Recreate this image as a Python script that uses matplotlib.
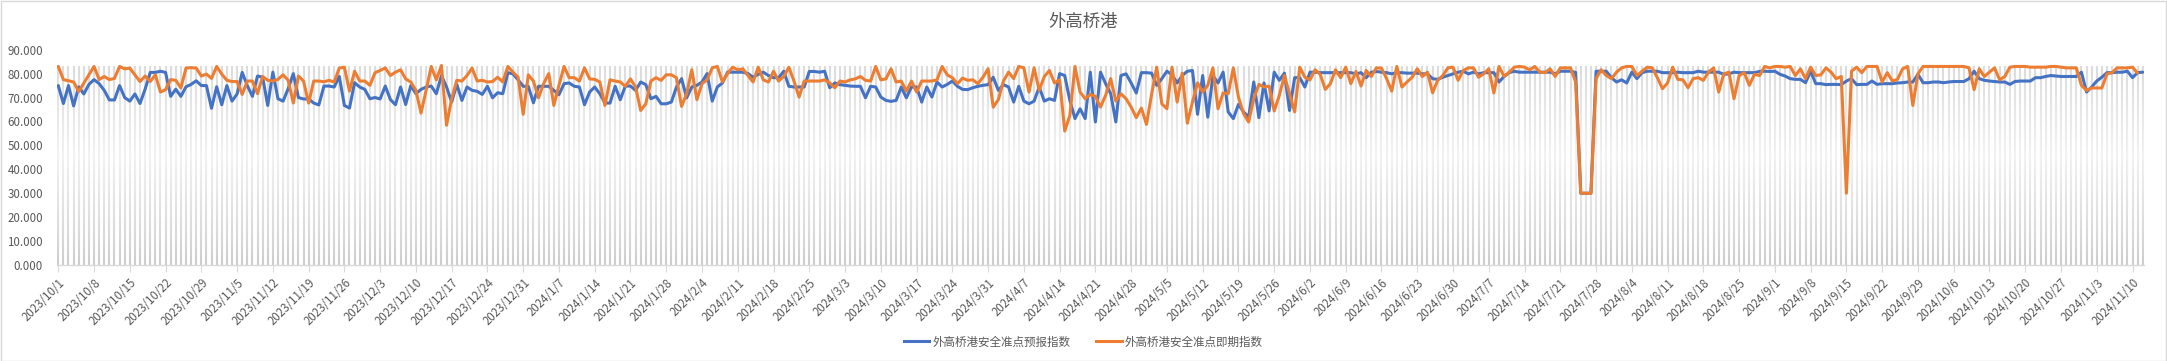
import numpy as np
import pandas as pd
import matplotlib
matplotlib.use("Agg")
import matplotlib.pyplot as plt
from matplotlib.lines import Line2D

plt.rcParams['font.family'] = ['Noto Sans CJK SC', 'DejaVu Sans']

title = "外高桥港"
series_names = ["外高桥港安全准点预报指数", "外高桥港安全准点即期指数"]
start_date = "2023-10-01"
n_days = 409

forecast = [
    75, 67.5, 75, 66.5, 74.5, 71.5, 75.5, 77.5, 75.8, 73, 69, 69, 75, 70, 68.5, 71.5, 67.5, 73.5, 80.5, 80.5,
    81, 80.5, 70.5, 73.5, 70.5, 74.5, 75.5, 77, 75, 75, 65.5, 74.5, 67, 75, 68.5, 71.5, 80.5, 75, 70.5, 79,
    78.5, 66.7, 80.6, 69.5, 68.5, 73.7, 80, 70, 69.4, 69.4, 67.7, 66.9, 74.8, 74.8, 74.4, 78.8, 66.7, 65.6, 76.2, 74.4,
    73.4, 69.5, 70, 69.4, 74.8, 69.2, 67, 74.4, 67.1, 75, 71.6, 73.4, 74.4, 74.8, 71.6, 79.2, 74.4, 68.1, 75.5, 68.8,
    74.4, 73, 72.6, 71.3, 74.7, 69.9, 72, 71.6, 80.4, 79.9, 77.4, 74.7, 74.7, 67.8, 74.7, 74.7, 74.7, 73, 71.2, 75.8,
    76.1, 74.7, 74.4, 67, 72.3, 74.4, 71.6, 67.7, 67.7, 74.7, 69.1, 74.8, 74.8, 73, 76.5, 75.4, 69.5, 70.5, 67.4, 67.4,
    68.1, 74.4, 77.9, 69.9, 74.4, 75.1, 76.5, 80, 68.5, 74.4, 76.1, 80.6, 80.6, 80.6, 80.6, 80, 78.5, 79.7, 80.6, 79.2,
    78.3, 78.3, 81, 74.7, 74.4, 74.4, 74.4, 80.9, 80.9, 80.6, 81, 74.1, 76.1, 75.4, 75.1, 74.8, 74.7, 74.7, 69.9, 74.7,
    74.4, 70.2, 68.8, 68.4, 68.8, 74.4, 69.9, 74.4, 74.4, 68.1, 74.4, 70.2, 76.5, 74.4, 75.5, 76.9, 74.7, 73.4, 73.3, 74.1,
    74.7, 75.1, 75.4, 78.5, 73, 75.4, 74.4, 68.1, 74.7, 68.5, 67.4, 68.5, 74.4, 68.5, 69.5, 68.8, 80, 79.2, 68.8, 61.2,
    65.3, 61.2, 80.6, 59.8, 80.6, 75.8, 71.6, 59.8, 79.2, 79.9, 76.1, 71.9, 80.4, 80.4, 80.2, 75.1, 77.9, 81, 79.5, 76.1,
    79.2, 81, 81.3, 63, 79.2, 61.8, 79.2, 76.1, 80.6, 64, 61.2, 67.1, 64, 61.8, 76.5, 61.6, 76.1, 64.4, 80.6, 77.2,
    80.2, 64.6, 78.3, 78.3, 74.4, 80.6, 80.6, 80.4, 80.4, 80.4, 80.4, 80.4, 80.4, 80.4, 79.9, 80.4, 78.3, 80.6, 80.9, 80.6,
    80.4, 79.9, 80.4, 80.4, 80.2, 80.2, 80.2, 79.9, 79.9, 77.9, 77.6, 78.5, 79.2, 79.9, 80.6, 81, 79.9, 80.6, 79.9, 80.4,
    80.4, 80.4, 76.5, 78.8, 80.4, 81, 80.6, 80.6, 80.6, 80.6, 80.6, 80.6, 80.6, 79.9, 81, 81, 81, 80.5, 30, 30, 30,
    81, 81, 81, 78.3, 76.5, 77.4, 76.1, 80.6, 77.9, 80.4, 81, 81, 81, 80.4, 80.4, 80.4, 80.6, 80.4, 80.4, 80.4,
    81, 80.6, 80.6, 80.6, 80.6, 79.7, 79.9, 80.6, 80.4, 80.4, 80.4, 80.4, 80.9, 81, 80.9, 81, 79.7, 79, 77.9, 77.6,
    77.6, 76.2, 81, 75.8, 75.8, 75.4, 75.5, 75.5, 75.4, 76.9, 77.9, 75.4, 75.5, 75.5, 76.9, 75.5, 75.8, 75.8, 75.8, 76.1,
    76.2, 76.5, 76.5, 79.7, 76.2, 76.2, 76.5, 76.5, 76.2, 76.5, 76.7, 76.7, 76.7, 77.9, 81, 77.9, 77.2, 76.9, 76.7, 76.5,
    76.5, 75.5, 76.7, 76.9, 76.9, 76.9, 78.3, 78.3, 78.8, 79.2, 79, 78.8, 78.8, 78.8, 78.8, 80.6, 72.3, 74.4, 76.9, 78.5,
    80.4, 80.4, 80.6, 80.6, 81, 78.3, 80.4, 80.6,
]

current = [
    83, 77.5, 77, 76.5, 72.5, 76, 79.5, 83, 77.5, 78.8, 77.5, 78, 83, 82, 82.3, 79.5, 76.7, 79, 76.7, 79.5,
    72.3, 73.3, 77.5, 77.2, 74, 82.3, 82.5, 82.3, 79, 79.8, 78, 83, 79.8, 77.2, 76.7, 76.7, 71.3, 76.9, 76.9, 71.6,
    78.8, 77.2, 76.9, 77.6, 79.5, 77.2, 67.7, 79, 76.9, 67.7, 76.9, 76.9, 76.6, 77.2, 76.5, 82.3, 82.7, 72.7, 81, 76.9,
    76.9, 75.1, 80.4, 81.3, 82.4, 79.2, 80.6, 81.6, 77.8, 76.5, 73, 63.5, 73, 83, 77.4, 83.4, 58.4, 69.5, 77.2, 76.9,
    79.2, 82.3, 76.9, 77.2, 76.5, 76.7, 78.5, 76.5, 83, 80.6, 78.5, 63, 79.5, 76.9, 69.9, 75.8, 80, 66.7, 75.1, 83,
    78.3, 78.3, 76.9, 82.4, 77.8, 77.6, 76.5, 66.7, 77.4, 76.9, 76.5, 74.7, 77.8, 74.4, 64.6, 67.4, 76.9, 78.3, 77.2, 79.5,
    79.5, 78.3, 66.3, 71.6, 81.6, 69.1, 75.8, 77.4, 82.4, 83, 76.5, 80, 82.7, 81.6, 82, 79.2, 76.5, 82.7, 77.4, 76.5,
    81, 76.9, 78.8, 82.7, 76.9, 70.2, 76.9, 76.9, 76.9, 76.9, 77.4, 76.1, 74.1, 76.9, 76.5, 77.4, 77.8, 78.8, 77.2, 76.9,
    83, 77.4, 77.8, 82, 76.5, 76.9, 72.7, 76.9, 72.3, 76.9, 76.9, 76.9, 77.4, 83, 79.5, 78.3, 75.8, 78.1, 77.2, 77.4,
    75.8, 78.5, 82, 66, 69.1, 76.9, 80.6, 77.9, 83, 82.4, 72.3, 82.4, 73, 78.8, 81.3, 76.1, 77.4, 56, 62.5, 83,
    72.3, 69.5, 71.3, 70.5, 66, 70.9, 77.9, 68.5, 71.6, 69.5, 66, 61.6, 65.6, 58.8, 71.3, 82.7, 67.4, 65.3, 82.7, 68.1,
    80.2, 59.3, 68.1, 76.1, 72.3, 75.1, 82.4, 65.3, 71.9, 71.6, 82.4, 70.2, 63.3, 59.8, 69.5, 75.5, 74.4, 74.8, 64.4, 70.9,
    79.2, 71.6, 64, 82.7, 78.5, 77.4, 81.6, 79.7, 73.4, 75.8, 81.6, 78.3, 82.7, 75.8, 80.9, 74.8, 81.3, 78.8, 82.4, 82.3,
    77.9, 72.7, 83, 74.4, 76.5, 78.5, 82, 78.8, 80.6, 72, 77.2, 79.2, 82.4, 82.7, 77.2, 81.3, 82.4, 82.4, 78.5, 79.9,
    82, 71.9, 83, 78.8, 80.6, 82.7, 83, 82.7, 81.6, 83, 80.6, 80.4, 82, 78.8, 82.4, 82.4, 82.4, 76.5, 30, 30, 30,
    77.9, 81.6, 79.2, 77.9, 80.6, 82.4, 83, 83, 79.2, 81, 82.7, 82.4, 78.3, 73.7, 76.1, 82.7, 77.6, 77.4, 74.1, 77.9,
    78.3, 77.2, 80.6, 82.4, 72.3, 79.9, 80.6, 69.5, 79.2, 80.4, 75.1, 79.7, 79.2, 83, 82.4, 83, 83, 82.7, 83, 79.2,
    82, 77.9, 82.7, 79.2, 79.5, 82.4, 80.6, 77.9, 78.8, 30, 81, 82.7, 80.4, 83, 83, 83, 76.5, 80.4, 76.9, 77.6,
    82, 83, 66.7, 79.9, 83, 83, 83, 83, 83, 83, 83, 83, 83, 82.4, 73.3, 82, 78.8, 80.6, 82.4, 77.4,
    78.8, 82.7, 83, 83, 83, 82.7, 82.7, 82.7, 82.7, 83, 83, 82.7, 82.4, 82.4, 82.4, 75.1, 73, 74, 74, 74,
    79.9, 80.4, 82.4, 82.4, 82.4, 82.7, 80.2, np.nan,
]

y_ticks = [0, 10, 20, 30, 40, 50, 60, 70, 80, 90]
column_level = 83.0

dates = pd.date_range(start_date, periods=n_days, freq="D")
x = np.arange(n_days)
fc = np.array(forecast, dtype=float)
cu = np.array(current, dtype=float)

W, H = 2167, 361
fig = plt.figure(figsize=(W / 100, H / 100), dpi=100)
fig.patch.set_facecolor("white")
ax = fig.add_axes([57 / W, 1 - 265 / H, (2144 - 57) / W, (265 - 49.7) / H])
ax.set_facecolor("white")

xmin, xmax = -0.25, n_days - 1 + 0.25

# thin gray columns behind the lines, shaded with a vertical gradient
ax.vlines(x, 0, column_level, colors="#cdcdcd", linewidth=1.5, zorder=1)
hgt = np.linspace(0, 1, 200)
alpha = np.interp(hgt, [0.0, 0.15, 0.55, 0.85, 1.0], [0.0, 0.25, 0.75, 0.45, 0.3])
grad = np.ones((200, 1, 4))
grad[:, 0, 3] = alpha
ax.imshow(grad, extent=[xmin, xmax, 0, column_level], origin="lower", aspect="auto",
          zorder=2, interpolation="bilinear")

blue = "#4472C4"
orange = "#ED7D31"
ax.plot(x, fc, color=blue, lw=2.2, zorder=3, solid_joinstyle="round", solid_capstyle="round")
ax.plot(x, cu, color=orange, lw=2.2, zorder=4, solid_joinstyle="round", solid_capstyle="round")

ax.set_xlim(xmin, xmax)
ax.set_ylim(0, 90)
ax.set_yticks(y_ticks)
ax.set_yticklabels([f"{v:.3f}" for v in y_ticks], color="#595959", fontsize=8.3)
ax.tick_params(axis="y", length=0, pad=10)

tick_idx = x[::7]
ax.set_xticks(tick_idx)
ax.set_xticklabels([f"{d.year}/{d.month}/{d.day}" for d in dates[::7]], rotation=45,
                   ha="right", rotation_mode="anchor", color="#595959", fontsize=8.3)
ax.tick_params(axis="x", length=5, color="#d9d9d9", pad=3)

for s in ["top", "right", "left"]:
    ax.spines[s].set_visible(False)
ax.spines["bottom"].set_color("#d9d9d9")
ax.spines["bottom"].set_linewidth(1.0)
ax.spines["bottom"].set_zorder(5)

fig.text(0.5, 1 - 22 / H, title, ha="center", va="center", fontsize=12.5, color="#595959")

handles = [Line2D([0], [0], color=blue, lw=2.2), Line2D([0], [0], color=orange, lw=2.2)]
fig.legend(handles, series_names, loc="center", bbox_to_anchor=(0.5, 1 - 342 / H), ncol=2,
           frameon=False, fontsize=8.3, handlelength=2.2, handletextpad=0.3, columnspacing=2.2,
           labelcolor="#595959")

# chart border
fig.add_artist(plt.Rectangle((0.5 / W, 0.5 / H), 1 - 1.5 / W, 1 - 1.5 / H, transform=fig.transFigure,
                             fill=False, edgecolor="#d9d9d9", linewidth=1.0))

fig.savefig("out.png", dpi=100)
